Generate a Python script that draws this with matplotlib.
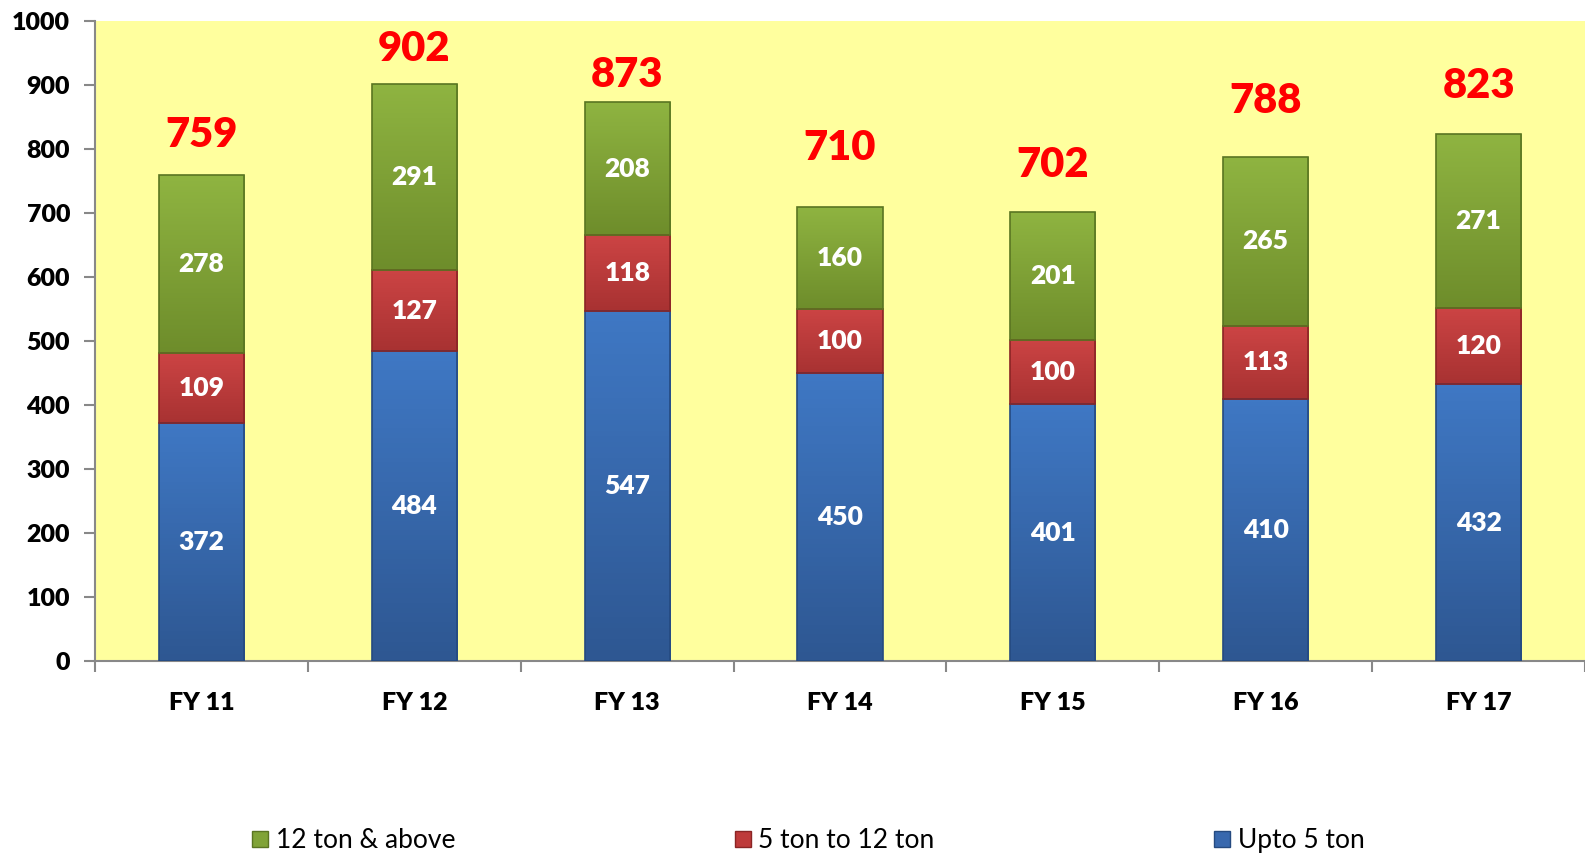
import matplotlib
matplotlib.use("Agg")
import matplotlib.pyplot as plt
from matplotlib.patches import Patch
from matplotlib.colors import LinearSegmentedColormap
import numpy as np

years = ['FY 11', 'FY 12', 'FY 13', 'FY 14', 'FY 15', 'FY 16', 'FY 17']
upto5 = [372, 484, 547, 450, 401, 410, 432]
ton5to12 = [109, 127, 118, 100, 100, 113, 120]
ton12up = [278, 291, 208, 160, 201, 265, 271]
totals = [759, 902, 873, 710, 702, 788, 823]

# the total labels were hand placed in the original, nudge each one
total_nudge = [33, 24, 13, 62, 43, 57, 46]

plt.rcParams['font.family'] = ['Lato', 'DejaVu Sans']

c_blue, c_red, c_green = '#3868AE', '#BE3A3A', '#80A337'
e_blue, e_red, e_green = '#254A80', '#8A2525', '#5A7522'
# top / bottom shades for the gradient fill
g_blue = ('#3F78C4', '#2E5792')
g_red = ('#CC4444', '#A83232')
g_green = ('#8FB441', '#6E8D2B')

fig = plt.figure(figsize=(15.85, 8.58), dpi=100)
ax = fig.add_axes([0.06, 0.2296, 0.94, 0.746])
ax.set_facecolor('#FFFF9E')

x = np.arange(len(years))
w = 0.40
up = np.array(upto5)
mid = np.array(ton5to12)
top = np.array(ton12up)

b1 = ax.bar(x, up, w, color=c_blue, edgecolor=e_blue, linewidth=1.2, zorder=3)
b2 = ax.bar(x, mid, w, bottom=up, color=c_red, edgecolor=e_red, linewidth=1.2, zorder=3)
b3 = ax.bar(x, top, w, bottom=up + mid, color=c_green, edgecolor=e_green, linewidth=1.2, zorder=3)

# gradient fill inside each segment
grad = np.linspace(1, 0, 64).reshape(-1, 1)
for bars, shades in [(b1, g_blue), (b2, g_red), (b3, g_green)]:
    cmap = LinearSegmentedColormap.from_list('g', [shades[1], shades[0]])
    for r in bars:
        bx, by = r.get_x(), r.get_y()
        im = ax.imshow(grad, cmap=cmap, aspect='auto', zorder=3.1,
                       extent=[bx, bx + r.get_width(), by, by + r.get_height()])
        im.set_clip_path(r)
        r.set_zorder(3.2)
        r.set_facecolor('none')

for i in range(len(years)):
    ax.text(x[i], up[i] / 2, str(upto5[i]), ha='center', va='center',
            color='white', fontsize=19, fontweight='heavy', zorder=4)
    ax.text(x[i], up[i] + mid[i] / 2, str(ton5to12[i]), ha='center', va='center',
            color='white', fontsize=19, fontweight='heavy', zorder=4)
    ax.text(x[i], up[i] + mid[i] + top[i] / 2, str(ton12up[i]), ha='center', va='center',
            color='white', fontsize=19, fontweight='heavy', zorder=4)
    ax.text(x[i], totals[i] + total_nudge[i], str(totals[i]), ha='center', va='bottom',
            color='#FF0000', fontsize=30, fontweight='heavy', zorder=4)

ax.set_xlim(-0.5, len(years) - 0.5)
ax.set_ylim(0, 1000)
ax.set_yticks(np.arange(0, 1001, 100))
ax.set_xticks(x)
ax.set_xticklabels(years)
ax.set_xticks(np.arange(-0.5, len(years), 1), minor=True)
ax.tick_params(axis='x', which='major', length=0, pad=22, labelsize=18)
ax.tick_params(axis='x', which='minor', length=8, color='#888888', width=1.5)
ax.tick_params(axis='y', length=8, color='#888888', width=1.5, labelsize=18, pad=10)
for lab in ax.get_xticklabels() + ax.get_yticklabels():
    lab.set_fontweight('heavy')
for s in ['top', 'right']:
    ax.spines[s].set_visible(False)
for s in ['left', 'bottom']:
    ax.spines[s].set_color('#888888')
    ax.spines[s].set_linewidth(1.5)

handles = [Patch(facecolor=c_green, edgecolor=e_green, label='12 ton & above'),
           Patch(facecolor=c_red, edgecolor=e_red, label='5 ton to 12 ton'),
           Patch(facecolor=c_blue, edgecolor=e_blue, label='Upto 5 ton')]
fig.legend(handles=handles, loc='center', bbox_to_anchor=(0.51, 0.02), ncol=3,
           frameon=False, fontsize=19, handlelength=0.6, handleheight=0.6,
           handletextpad=0.3, columnspacing=10.6)

fig.savefig('out.png', dpi=100)
